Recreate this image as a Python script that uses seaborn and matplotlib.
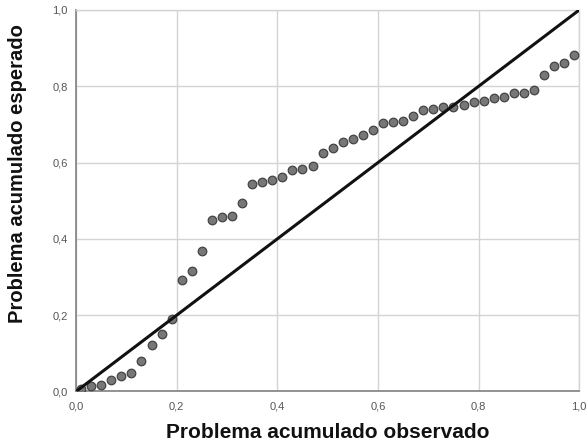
import matplotlib
matplotlib.use("Agg")
import matplotlib.pyplot as plt
import matplotlib.ticker as mticker
import seaborn as sns
import pandas as pd

# Observed vs expected cumulative proportions (P-P plot)
observed = [0.01, 0.03, 0.05, 0.07, 0.09, 0.11, 0.13, 0.15, 0.17, 0.19,
            0.21, 0.23, 0.25, 0.27, 0.29, 0.31, 0.33, 0.35, 0.37, 0.39,
            0.41, 0.43, 0.45, 0.47, 0.49, 0.51, 0.53, 0.55, 0.57, 0.59,
            0.61, 0.63, 0.65, 0.67, 0.69, 0.71, 0.73, 0.75, 0.77, 0.79,
            0.81, 0.83, 0.85, 0.87, 0.89, 0.91, 0.93, 0.95, 0.97, 0.99]
expected = [0.007, 0.014, 0.017, 0.030, 0.041, 0.048, 0.081, 0.121, 0.151, 0.190,
            0.292, 0.317, 0.368, 0.450, 0.458, 0.459, 0.493, 0.544, 0.549, 0.554,
            0.563, 0.581, 0.583, 0.591, 0.626, 0.637, 0.653, 0.661, 0.672, 0.685,
            0.705, 0.707, 0.710, 0.722, 0.738, 0.740, 0.745, 0.746, 0.751, 0.760,
            0.762, 0.770, 0.773, 0.782, 0.783, 0.790, 0.830, 0.853, 0.860, 0.881]
reference = [0.0, 1.0]
ticks = [0.0, 0.2, 0.4, 0.6, 0.8, 1.0]

sns.set_style("white")
plt.rcParams["font.family"] = ["Liberation Sans", "DejaVu Sans"]

df = pd.DataFrame({"obs": observed, "exp": expected})

fig = plt.figure(figsize=(5.88, 4.46), dpi=100)
ax = fig.add_axes([0.1293, 0.1222, 0.8558, 0.8554])

ax.grid(True, color="#d4d4d4", linewidth=1.0)
ax.set_axisbelow(True)

sns.scatterplot(data=df, x="obs", y="exp", ax=ax, s=38, color="#777777",
                edgecolor="#444444", linewidth=0.9, zorder=3, legend=False)
sns.lineplot(x=reference, y=reference, ax=ax, color="#111111",
             linewidth=2.2, zorder=4)

ax.set_xlim(0, 1)
ax.set_ylim(0, 1)
ax.set_xticks(ticks)
ax.set_yticks(ticks)
fmt = mticker.FuncFormatter(lambda v, p: f"{v:.1f}".replace(".", ","))
ax.xaxis.set_major_formatter(fmt)
ax.yaxis.set_major_formatter(fmt)
ax.tick_params(axis="both", length=0, labelsize=8, labelcolor="#555555")
ax.tick_params(axis="x", pad=7)
ax.tick_params(axis="y", pad=6)

for side in ("left", "bottom"):
    ax.spines[side].set_color("#808080")
    ax.spines[side].set_linewidth(1.2)
for side in ("top", "right"):
    ax.spines[side].set_color("#d4d4d4")
    ax.spines[side].set_linewidth(1.0)

ax.set_xlabel("Problema acumulado observado", fontsize=15, fontweight="bold",
              color="#111111")
ax.set_ylabel("Problema acumulado esperado", fontsize=14.5, fontweight="bold",
              color="#111111")
ax.xaxis.set_label_coords(0.50, -0.082)
ax.yaxis.set_label_coords(-0.097, 0.57)

fig.savefig("out.png", dpi=100)
